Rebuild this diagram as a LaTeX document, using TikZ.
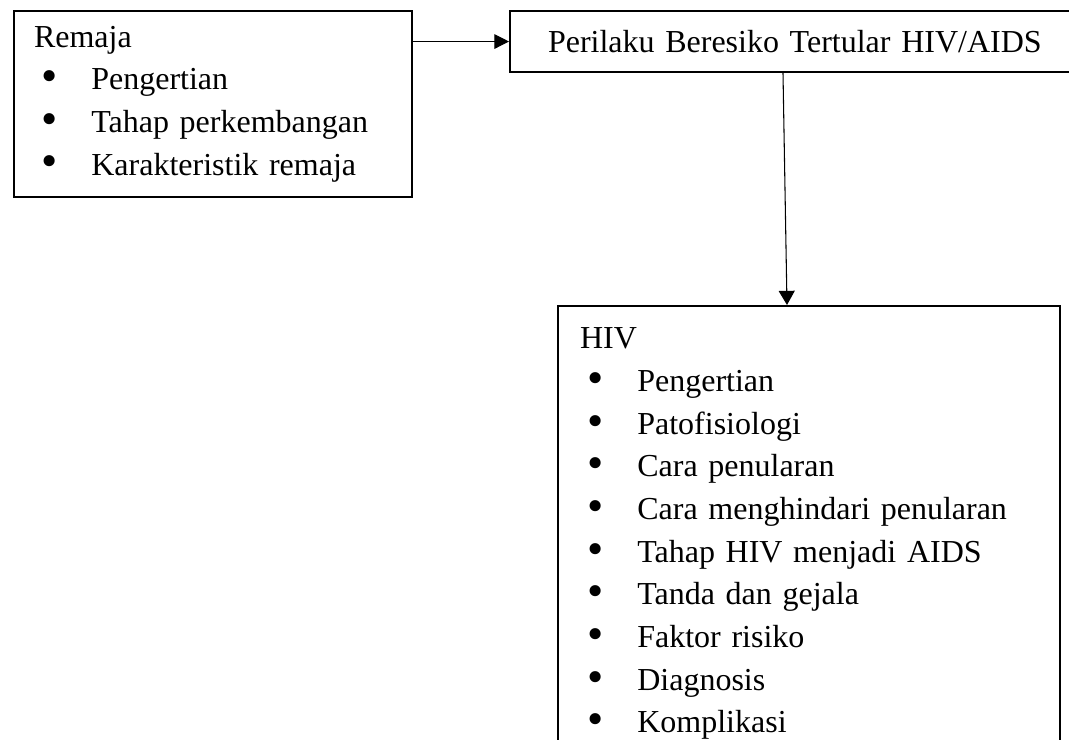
\documentclass[tikz,border=0pt]{standalone}
\usepackage{fontspec}
\setmainfont{Liberation Serif}
\usetikzlibrary{arrows.meta, positioning}
\newcommand{\poin}[1]{\hspace*{6pt}\makebox[0pt]{\raisebox{-0.7pt}{\scalebox{1.45}{\textbullet}}}\hspace*{15.5pt}#1}

\begin{document}
\begin{tikzpicture}[
        x=0.375pt, y=-0.375pt,
        box/.style={rectangle, draw=black, line width=0.75pt, anchor=north west, align=left, font=\fontsize{12pt}{16pt}\selectfont},
        link/.style={draw=black, line width=0.4pt}
    ]
        \useasboundingbox (0,0) rectangle (1069,740);
        \clip (0,0) rectangle (1069,740);

        % Remaja
        \node[box, text width=134.25pt, inner xsep=7.5pt, inner ysep=5.6pt] (remaja) at (13,10) {Remaja\\
            \poin{Pengertian}\\
            \poin{Tahap perkembangan}\\
            \poin{Karakteristik remaja}};

        % Perilaku beresiko
        \node[box, text width=193.1pt, inner xsep=14.25pt, minimum height=22.9pt] (perilaku) at (509,10) {Perilaku Beresiko Tertular HIV/AIDS};

        % HIV
        \node[box, text width=171.75pt, inner xsep=8.25pt, inner ysep=8.2pt] (hiv) at (557,305) {HIV\\
            \poin{Pengertian}\\
            \poin{Patofisiologi}\\
            \poin{Cara penularan}\\
            \poin{Cara menghindari penularan}\\
            \poin{Tahap HIV menjadi AIDS}\\
            \poin{Tanda dan gejala}\\
            \poin{Faktor risiko}\\
            \poin{Diagnosis}\\
            \poin{Komplikasi}};

        % Connections
        \draw[link, -{Triangle[length=5.5pt, width=5.5pt]}] (remaja.east |- perilaku.west) -- (perilaku.west);
        \draw[link, -{Triangle[length=5.3pt, width=6pt]}] ([xshift=102.75pt]perilaku.south west) -- ([xshift=86.25pt]hiv.north west);
    \end{tikzpicture}
\end{document}
